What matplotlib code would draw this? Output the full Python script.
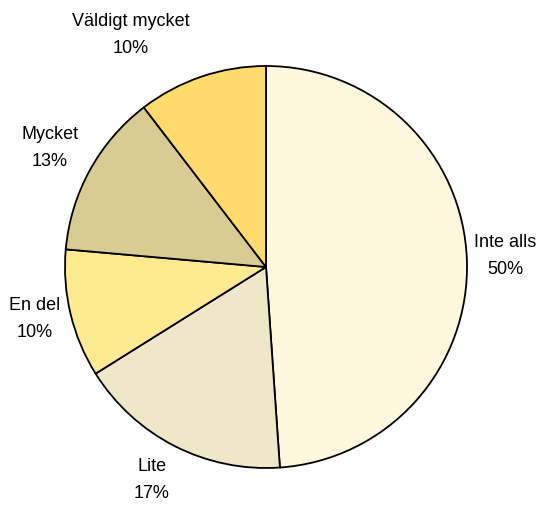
import matplotlib.pyplot as plt

categories = ["Inte alls", "Lite", "En del", "Mycket", "Väldigt mycket"]
values = [48.9, 17.2, 10.3, 13.2, 10.4]
pct_labels = ["50%", "17%", "10%", "13%", "10%"]
colors = ["#FEF8DF", "#EFE8C8", "#FEEA90", "#D9CC92", "#FEDB6B"]

W, H = 543, 505
cx, cy, r = 266, 267, 201

fig = plt.figure(figsize=(W / 100, H / 100), dpi=100)
ax = fig.add_axes([(cx - r) / W, (H - cy - r) / H, 2 * r / W, 2 * r / H])

ax.pie(values, colors=colors, startangle=90, counterclock=False,
       wedgeprops=dict(edgecolor="black", linewidth=1.3))
ax.set_xlim(-1, 1)
ax.set_ylim(-1, 1)
ax.set_aspect("equal")
ax.axis("off")

# label centres in pixels (from the reference)
label_pos = [(505, 256), (152, 480), (35, 319), (50, 148), (131, 35)]
for name, pct, (px, py) in zip(categories, pct_labels, label_pos):
    fig.text(px / W, 1 - py / H, name + "\n" + pct, ha="center", va="center",
             fontsize=13, family="Liberation Sans", linespacing=1.75)

fig.savefig("out.png", dpi=100)
plt.close()
